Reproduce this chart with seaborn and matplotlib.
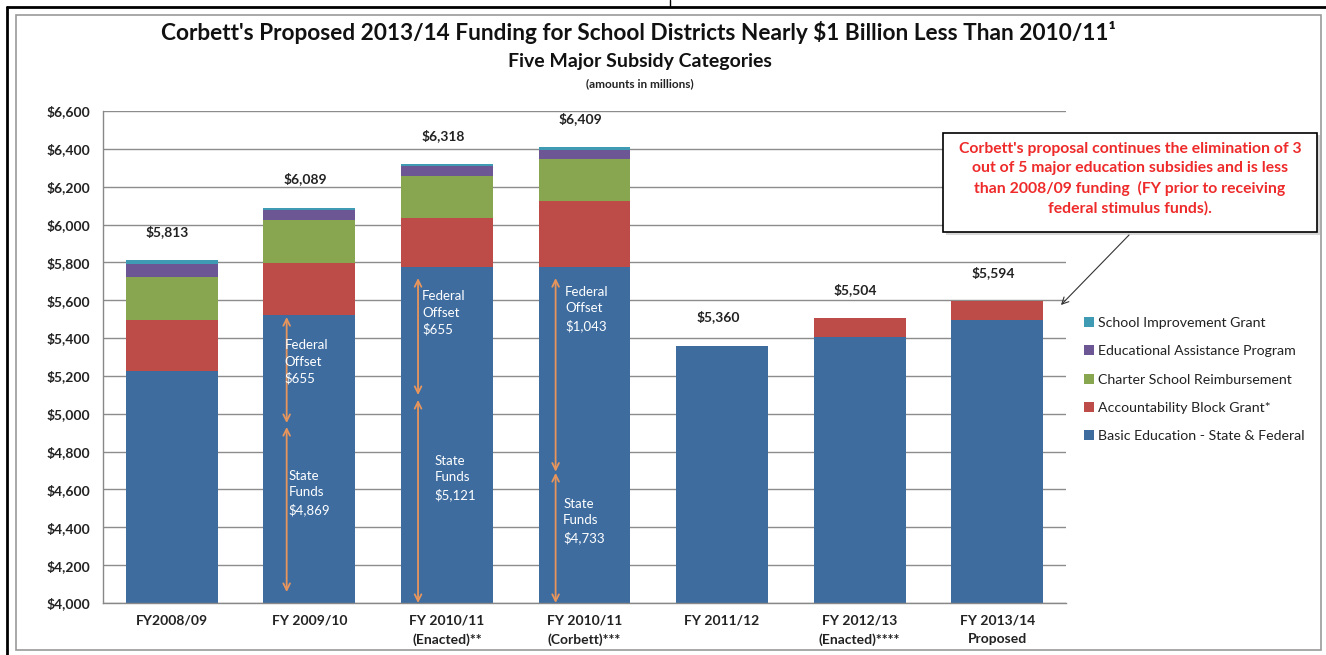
import matplotlib
matplotlib.use("Agg")
import matplotlib.pyplot as plt
import seaborn as sns
import numpy as np
import pandas as pd
from matplotlib.patches import Patch, Rectangle, FancyArrowPatch
from matplotlib.lines import Line2D

# ---------------- data ----------------
categories = ["FY2008/09", "FY 2009/10", "FY 2010/11\n(Enacted)**", "FY 2010/11\n(Corbett)***",
              "FY 2011/12", "FY 2012/13\n(Enacted)****", "FY 2013/14\nProposed"]
basic_ed = [5226, 5524, 5776, 5776, 5360, 5404, 5494]
accountability = [271, 271, 259, 350, 0, 100, 100]
charter = [227, 227, 224, 222, 0, 0, 0]
eap = [65, 55, 49, 45, 0, 0, 0]
sig = [24, 12, 10, 16, 0, 0, 0]
series_names = ["Basic Education - State & Federal", "Accountability Block Grant*",
                "Charter School Reimbursement", "Educational Assistance Program",
                "School Improvement Grant"]
federal_offset = [None, 655, 655, 1043]
state_funds = [None, 4869, 5121, 4733]
yticks = list(range(4000, 6601, 200))

colors = ["#3E6C9F", "#BD4B48", "#88A550", "#6C5693", "#3F9AB3"]
orange = "#E8955C"

sns.set_style("white")
plt.rcParams['font.family'] = ['Lato', 'DejaVu Sans']

W, H = 1326, 655
fig = plt.figure(figsize=(W / 100, H / 100), dpi=100)
def fx(p): return p / W
def fy(p): return 1 - p / H

ax = fig.add_axes([fx(103), fy(603), fx(1066) - fx(103), fy(111) - fy(603)])

layers = [basic_ed, accountability, charter, eap, sig]
cum = np.cumsum(np.array(layers), axis=0)
df = pd.DataFrame({"cat": categories})
for i in range(len(layers) - 1, -1, -1):
    df["v"] = cum[i]
    sns.barplot(data=df, x="cat", y="v", order=categories, color=colors[i],
                saturation=1, width=0.667, linewidth=0, ax=ax, zorder=2)

totals = cum[-1]
for i, t in enumerate(totals):
    ax.annotate(f"${t:,}", (i, t), xytext=(-3, 16), textcoords="offset points",
                ha="center", va="bottom", fontsize=10, fontweight="bold", color="#222222")

ax.set_xlim(-0.5, len(categories) - 0.5)
ax.set_ylim(4000, 6600)
ax.set_yticks(yticks)
ax.set_yticklabels([f"${v:,}" for v in yticks], fontsize=10, fontweight="bold", color="#222222")
ax.set_xticks(range(len(categories)))
ax.set_xticklabels(categories, fontsize=10, fontweight="bold", color="#222222", linespacing=1.7)
ax.set_xticks(np.arange(-0.5, len(categories), 1), minor=True)
ax.tick_params(axis="x", which="major", length=0, pad=8)
ax.tick_params(axis="x", which="minor", length=5, color="#888888", direction="out")
ax.tick_params(axis="y", length=5, color="#888888", direction="out", pad=4)
ax.set_xlabel("")
ax.set_ylabel("")
ax.yaxis.grid(True, color="#8c8c8c", lw=1)
ax.set_axisbelow(True)
for s in ["top", "right"]:
    ax.spines[s].set_visible(False)
for s in ["left", "bottom"]:
    ax.spines[s].set_color("#888888")
    ax.spines[s].set_linewidth(1)

# federal / state arrows
arrow_x = {1: -0.165, 2: -0.21, 3: -0.21}
fed_span = {1: (5511, 4951), 2: (5717, 5099), 3: (5717, 4694)}
state_span = {1: (4930, 4058), 2: (5073, 4000), 3: (4687, 4000)}
fed_text = {1: (-0.18, 5273), 2: (-0.18, 5532), 3: (-0.14, 5554)}
state_text = {1: (-0.15, 4581), 2: (-0.09, 4660), 3: (-0.155, 4433)}
ap = dict(arrowstyle="<->", color=orange, lw=1.3, shrinkA=0, shrinkB=0, mutation_scale=12)
for i in (1, 2, 3):
    xa = i + arrow_x[i]
    ax.annotate("", xy=(xa, fed_span[i][1]), xytext=(xa, fed_span[i][0]), arrowprops=ap, zorder=5)
    ax.annotate("", xy=(xa, state_span[i][1]), xytext=(xa, state_span[i][0]), arrowprops=ap, zorder=5)
    ax.text(i + fed_text[i][0], fed_text[i][1], f"Federal\nOffset\n${federal_offset[i]:,}",
            color="white", fontsize=9.5, ha="left", va="center", linespacing=1.45, zorder=6)
    ax.text(i + state_text[i][0], state_text[i][1], f"State\nFunds\n${state_funds[i]:,}",
            color="white", fontsize=9.5, ha="left", va="center", linespacing=1.45, zorder=6)

# titles
fig.text(fx(638), fy(33), "Corbett's Proposed 2013/14 Funding for School Districts Nearly $1 Billion Less Than 2010/11\u00b9",
         ha="center", va="center", fontsize=16.3, fontweight="bold", color="#111111")
fig.text(fx(640), fy(62), "Five Major Subsidy Categories", ha="center", va="center",
         fontsize=14, fontweight="bold", color="#111111")
fig.text(fx(640), fy(84), "(amounts in millions)", ha="center", va="center",
         fontsize=8.5, fontweight="bold", color="#222222")

# legend
handles = [Patch(facecolor=colors[i], edgecolor="none", label=series_names[i]) for i in range(4, -1, -1)]
fig.legend(handles=handles, loc="upper left", bbox_to_anchor=(fx(1078), fy(311)),
           frameon=False, fontsize=10.2, handlelength=0.7, handleheight=0.7,
           handletextpad=0.3, labelspacing=1.16, borderaxespad=0, labelcolor="#222222")

# annotation box
fig.add_artist(Rectangle((fx(946), fy(235)), fx(1320) - fx(946), fy(135) - fy(235),
                         transform=fig.transFigure, facecolor="#d8d8d8", edgecolor="none", zorder=3))
fig.add_artist(Rectangle((fx(943), fy(232)), fx(1317) - fx(943), fy(133) - fy(232),
                         transform=fig.transFigure, facecolor="white", edgecolor="black", lw=1.2, zorder=4))
fig.text(fx(1130), fy(179), "Corbett's proposal continues the elimination of 3\nout of 5 major education subsidies and is less\nthan 2008/09 funding  (FY prior to receiving\nfederal stimulus funds).",
         ha="center", va="center", fontsize=11.3, fontweight="bold", color="#EE2A2A",
         linespacing=1.45, zorder=5)
fig.add_artist(FancyArrowPatch((fx(1131), fy(233)), (fx(1059), fy(307)),
               transform=fig.transFigure, arrowstyle="->", mutation_scale=12, color="#333333", lw=0.8, zorder=5))

# frames
fig.add_artist(Rectangle((fx(16), fy(650)), fx(1321) - fx(16), fy(15) - fy(650),
                         transform=fig.transFigure, facecolor="none", edgecolor="#999999", lw=1.2))
fig.add_artist(Line2D([fx(7), fx(7)], [0, fy(7)], transform=fig.transFigure, color="black", lw=2))
fig.add_artist(Line2D([fx(7), 1], [fy(7), fy(7)], transform=fig.transFigure, color="black", lw=2))
fig.add_artist(Line2D([fx(670), fx(670)], [fy(7), 1], transform=fig.transFigure, color="black", lw=1))

fig.savefig("out.png", dpi=100)
